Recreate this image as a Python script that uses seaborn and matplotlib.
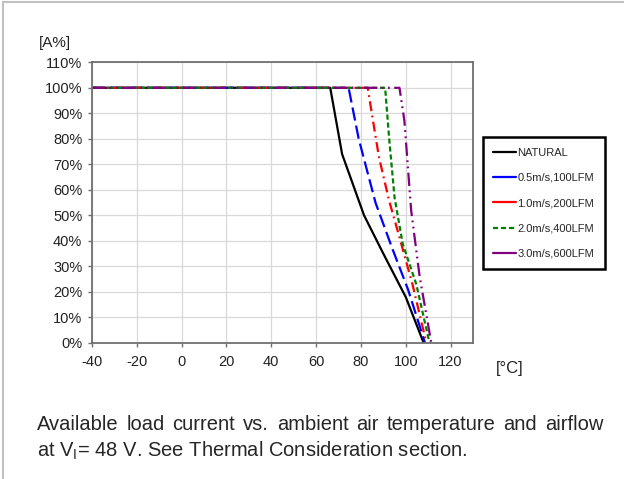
import matplotlib
matplotlib.use("Agg")
import matplotlib.pyplot as plt
from matplotlib.lines import Line2D
import seaborn as sns
import pandas as pd

# derating curves: temperature [°C] vs load current [%]
natural_t = [-40, 66.3, 71.6, 81.4, 90.0, 100.0, 108.0]
natural_i = [100, 100, 74, 50, 35, 18, 0]
air05_t = [-40, 74.5, 79.0, 86.5, 94.0, 101.0, 108.6]
air05_i = [100, 100, 80, 55, 37, 21, 0]
air10_t = [-40, 83.0, 88.0, 92.5, 97.0, 103.0, 109.2]
air10_i = [100, 100, 73, 56, 42, 23, 0]
air20_t = [-40, 90.8, 92.6, 95.0, 98.6, 104.7, 110.6]
air20_i = [100, 100, 80, 57, 39, 23, 0]
air30_t = [-40, 97.2, 99.4, 102.4, 106.2, 111.4]
air30_i = [100, 100, 87, 52, 26, 0]

series_names = ["NATURAL", "0.5m/s,100LFM", "1.0m/s,200LFM",
                "2.0m/s,400LFM", "3.0m/s,600LFM"]
series_t = [natural_t, air05_t, air10_t, air20_t, air30_t]
series_i = [natural_i, air05_i, air10_i, air20_i, air30_i]
colors = ["black", "#0000ff", "#ff0000", "#008000", "#800080"]
dashes = [None, (6, 2.3), (4.5, 2, 0.8, 2), (2.3, 1.3), (6, 2, 0.8, 2, 0.8, 2)]

x_ticks = [-40, -20, 0, 20, 40, 60, 80, 100, 120]
y_ticks = [0, 10, 20, 30, 40, 50, 60, 70, 80, 90, 100, 110]

caption_1 = "Available load current vs. ambient air temperature and airflow"
caption_2 = r"at V$_\mathrm{I}$= 48 V. See Thermal Consideration section."

sns.set_style("whitegrid")
plt.rcParams["font.family"] = ["Liberation Sans", "DejaVu Sans"]
plt.rcParams["mathtext.fontset"] = "custom"
plt.rcParams["mathtext.rm"] = "Liberation Sans"
plt.rcParams["axes.unicode_minus"] = False

fig = plt.figure(figsize=(6.24, 4.79), dpi=100)
ax = fig.add_axes([92 / 624, 1 - 343 / 479, 381 / 624, 280.7 / 479])

for name, t, i, c, d in zip(series_names, series_t, series_i, colors, dashes):
    df = pd.DataFrame({"t": t, "i": i})
    sns.lineplot(data=df, x="t", y="i", color=c, label=name, sort=False,
                 linewidth=1.6, ax=ax, estimator=None)
    if d is not None:
        ax.lines[-1].set_dashes(d)

ax.set_xlim(-40, 130)
ax.set_ylim(0, 110)
ax.set_xticks(x_ticks)
ax.set_yticks(y_ticks)
ax.set_yticklabels([f"{v}%" for v in y_ticks])
ax.set_xlabel("")
ax.set_ylabel("")
ax.grid(True, color="#d9d9d9", linewidth=0.9)
for s in ax.spines.values():
    s.set_color("#707070")
    s.set_linewidth(1.3)
ax.tick_params(axis="both", which="both", length=3, width=1, color="#707070",
               labelsize=10.5, labelcolor="#222222", pad=4, left=True, bottom=True)
ax.tick_params(axis="x", pad=6)

leg = ax.legend(loc="upper left", bbox_to_anchor=(1.026, 0.734), fontsize=8,
                frameon=True, fancybox=False, borderaxespad=0, handlelength=2.0,
                handletextpad=0.15, labelspacing=1.38, borderpad=0.95)
leg.get_frame().set_edgecolor("black")
leg.get_frame().set_linewidth(1.8)
leg.get_frame().set_alpha(1)
# legend keys: solid strokes, only the 2.0 m/s key stays dashed
for k, line in enumerate(leg.get_lines()):
    if k == 3:
        line.set_dashes((2.3, 1.3))
    else:
        line.set_linestyle("-")

fig.text(55 / 624, 1 - 43 / 479, "[A%]", fontsize=11, ha="center", va="center",
         color="#222222")
fig.text(510 / 624, 1 - 368 / 479, "[°C]", fontsize=12, ha="center", va="center",
         color="#222222")

# caption, first line justified between the margins
left_px, right_px = 37, 603
words = caption_1.split(" ")
renderer = fig.canvas.get_renderer()
texts = [fig.text(0, 1 - 425 / 479, w, fontsize=14.5, va="center", ha="left")
         for w in words]
widths = [t.get_window_extent(renderer).width for t in texts]
gap = (right_px - left_px - sum(widths)) / (len(words) - 1)
x = left_px
for t, w in zip(texts, widths):
    t.set_x(x / 624)
    x += w + gap
fig.text(left_px / 624, 1 - 451 / 479, caption_2, fontsize=14.5, va="center",
         ha="left")

# light frame on top and left edges
fig.add_artist(Line2D([3 / 624, 3 / 624], [0, 1 - 2 / 479], transform=fig.transFigure,
                      color="#c0c0c0", linewidth=1.5))
fig.add_artist(Line2D([3 / 624, 1], [1 - 2 / 479, 1 - 2 / 479],
                      transform=fig.transFigure, color="#c0c0c0", linewidth=1.5))

fig.savefig("out.png", dpi=100)
